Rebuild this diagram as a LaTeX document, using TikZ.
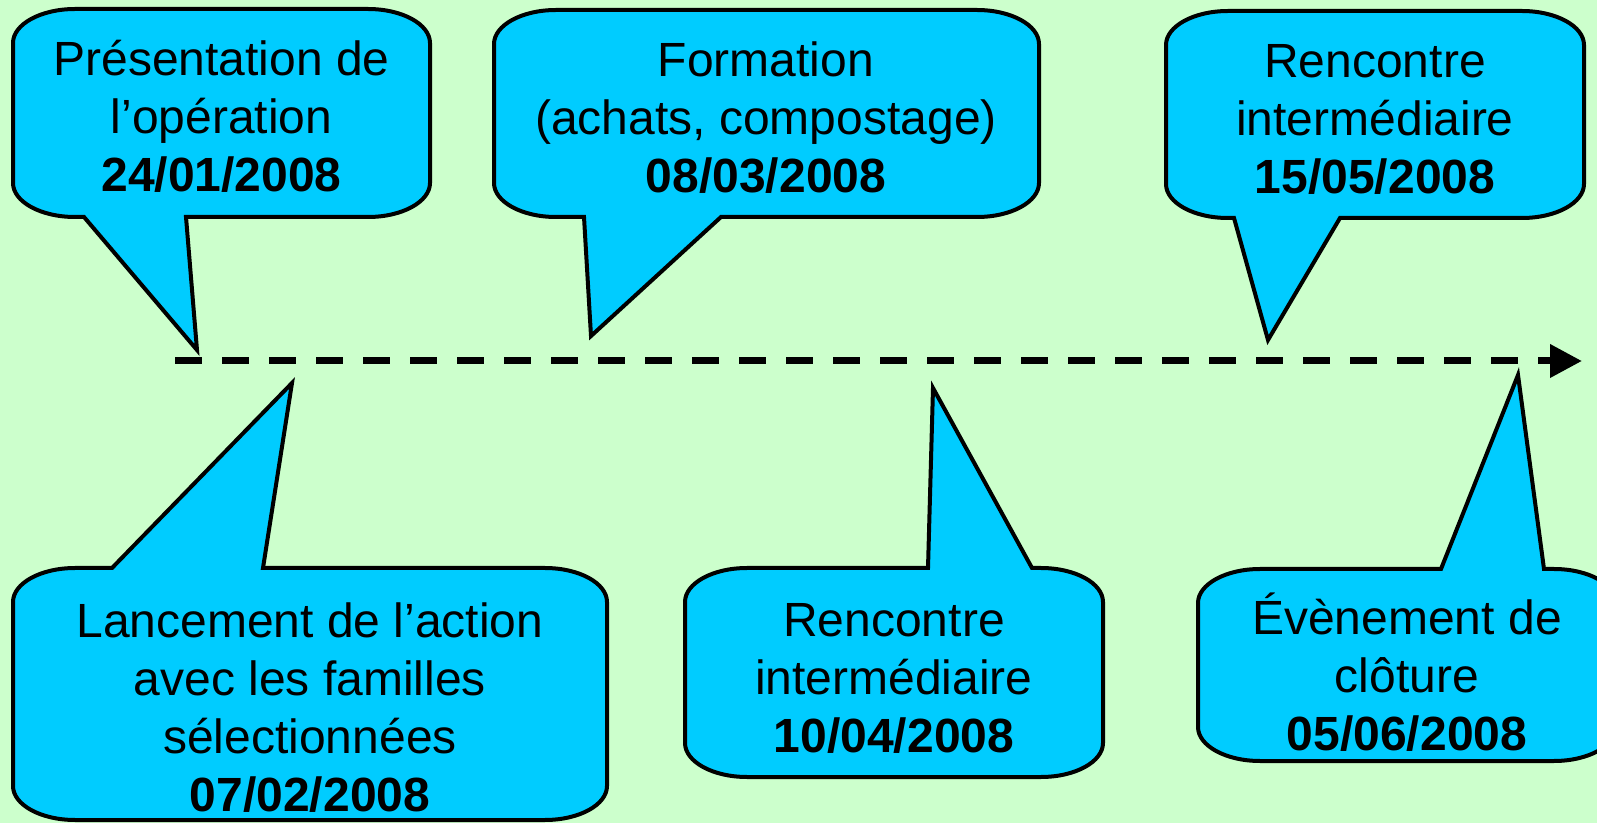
\documentclass[tikz,border=0pt]{standalone}
\usepackage{fontspec}
\setmainfont{Liberation Sans}
\usetikzlibrary{arrows.meta}
\definecolor{bggreen}{HTML}{CCFFCC}
\definecolor{callblue}{HTML}{00CCFF}
\newcommand{\fl}{\rule{0pt}{22.5pt}}
% tail pointing down: L T R B a1 a2 tipx tipy
\newcommand{\calloutdown}[8]{%
  \filldraw[callbox] ({#1+62},{-#2}) -- ({#3-62},{-#2})
    arc[start angle=90,end angle=0,x radius=31pt,y radius=17pt]
    -- ({#3},{-#4+34})
    arc[start angle=0,end angle=-90,x radius=31pt,y radius=17pt]
    -- ({#6},{-#4}) -- ({#7},{-#8}) -- ({#5},{-#4}) -- ({#1+62},{-#4})
    arc[start angle=270,end angle=180,x radius=31pt,y radius=17pt]
    -- ({#1},{-#2-34})
    arc[start angle=180,end angle=90,x radius=31pt,y radius=17pt]
    -- cycle;}
% tail pointing up: L T R B a1 a2 tipx tipy
\newcommand{\calloutup}[8]{%
  \filldraw[callbox] ({#1+62},{-#2}) -- ({#5},{-#2}) -- ({#7},{-#8}) -- ({#6},{-#2})
    -- ({#3-62},{-#2})
    arc[start angle=90,end angle=0,x radius=31pt,y radius=17pt]
    -- ({#3},{-#4+34})
    arc[start angle=0,end angle=-90,x radius=31pt,y radius=17pt]
    -- ({#1+62},{-#4})
    arc[start angle=270,end angle=180,x radius=31pt,y radius=17pt]
    -- ({#1},{-#2-34})
    arc[start angle=180,end angle=90,x radius=31pt,y radius=17pt]
    -- cycle;}
\begin{document}
\begin{tikzpicture}[x=0.5pt,y=0.5pt,
  callbox/.style={fill=callblue,draw=black,line width=2pt,line join=miter},
  calltext/.style={anchor=north,inner sep=0pt,align=center,text=black,
    font=\fontsize{24pt}{29pt}\selectfont},
  timeline/.style={line width=3.5pt,dash pattern=on 13.5pt off 10pt}]
\fill[bggreen] (0,0) rectangle (1597,-823);
\useasboundingbox (0,0) rectangle (1597,-823);
\clip (0,0) rectangle (1597,-823);
% timeline
\coordinate (tstart) at (175,-361);
\coordinate (tend) at (1582,-361);
\draw[timeline,-{Triangle[length=16pt,width=16pt]}] (tstart) -- (tend);
% top callouts
\calloutdown{13}{9}{430}{217}{84}{186}{197}{350}
\calloutdown{494}{10}{1039}{217}{584}{721}{591}{336}
\calloutdown{1166}{11}{1584}{218}{1234}{1340}{1268}{340}
% bottom callouts
\calloutup{13}{568}{607}{820}{112}{263}{292}{383}
\calloutup{685}{568}{1103}{777}{928}{1032}{933}{388}
\calloutup{1198}{569}{1616}{761}{1441}{1544}{1518}{375}
% texts
\node[calltext] (t1) at (221.5,{-(75-45)}) {\fl Présentation de\\l’opération\\\textbf{24/01/2008}};
\node[calltext] (t2) at (766,{-(76-45)}) {\fl Formation\\(achats, compostage)\\\textbf{08/03/2008}};
\node[calltext] (t3) at (1375,{-(77-45)}) {\fl Rencontre\\intermédiaire\\\textbf{15/05/2008}};
\node[calltext] (t4) at (310,{-(637-45)}) {\fl Lancement de l’action\\avec les familles\\sélectionnées\\\textbf{07/02/2008}};
\node[calltext] (t5) at (894,{-(636-45)}) {\fl Rencontre\\intermédiaire\\\textbf{10/04/2008}};
\node[calltext] (t6) at (1407,{-(634-45)}) {\fl Évènement de\\clôture\\\textbf{05/06/2008}};
\end{tikzpicture}
\end{document}
